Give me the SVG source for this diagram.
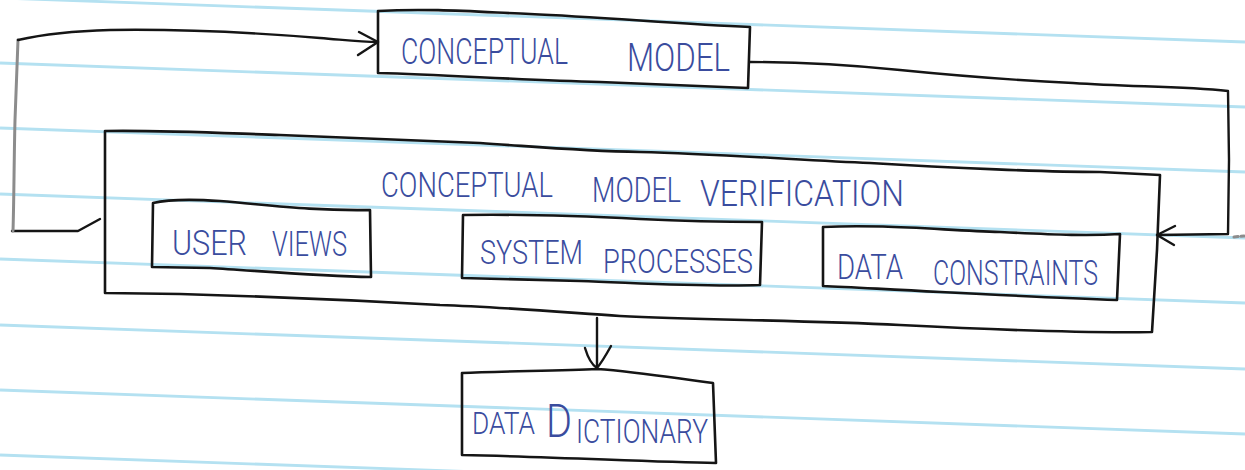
<svg xmlns="http://www.w3.org/2000/svg" width="1245" height="470" viewBox="0 0 1245 470">
  <defs>
    <style>
      .paper { stroke: #b4e1f1; stroke-width: 2.8; fill: none; }
      .box { fill: none; stroke: #151515; stroke-width: 2.6; stroke-linejoin: round; stroke-linecap: round; }
      .wire { fill: none; stroke: #151515; stroke-width: 2.4; stroke-linejoin: round; stroke-linecap: round; }
      .pencil { fill: none; stroke: #8c8c8c; stroke-width: 3; stroke-linecap: round; }
      .t { font-family: Roboto, "Liberation Sans", Arial, sans-serif; font-weight: 300; fill: #3a4c9e; }
    </style>
  </defs>
  <rect x="0" y="0" width="1245" height="470" fill="#ffffff"/>
  <g id="paper-lines">
    <line class="paper" x1="0" y1="-2" x2="1245" y2="42"/>
    <line class="paper" x1="0" y1="63" x2="1245" y2="107"/>
    <line class="paper" x1="0" y1="128" x2="1245" y2="172"/>
    <line class="paper" x1="0" y1="194" x2="1245" y2="238"/>
    <line class="paper" x1="0" y1="259" x2="1245" y2="303"/>
    <line class="paper" x1="0" y1="325" x2="1245" y2="369"/>
    <line class="paper" x1="0" y1="390" x2="1245" y2="434"/>
    <line class="paper" x1="0" y1="455" x2="1245" y2="499"/>
  </g>

  <g id="connectors">
    <!-- feedback loop from verification back to conceptual model -->
    <path class="wire" d="M100,219 L78,231 L12,231"/>
    <path class="pencil" d="M13,231 C14,200 14,160 15,120 C16,90 17,60 18,40"/>
    <path class="wire" d="M18,40 C40,35 70,31 110,30 C180,29 260,33 320,38 C345,40 360,42 378,42"/>
    <path class="wire" d="M359,32 L378,42 L358,55"/>
    <!-- conceptual model to verification -->
    <path class="wire" d="M750,62 C800,62 850,65 900,70 C960,76 1010,80 1073,83 C1130,87 1180,86 1228,91 L1229,160 L1228,234 L1157,235"/>
    <path class="wire" d="M1175,226 L1157,235 L1174,245"/>
    <path class="pencil" d="M1234,237 L1244,236" stroke-dasharray="4 3"/>
    <!-- verification to data dictionary -->
    <path class="wire" d="M597,318 L597,367"/>
    <path class="wire" d="M585,348 C588,358 592,365 597,368 C602,362 606,355 611,346"/>
  </g>

  <g id="conceptual-model">
    <path class="box" d="M378,11 C430,8 480,12 530,14 C600,17 680,24 750,27 L748,88 C700,86 650,84 600,82 C520,80 450,75 378,73 Z"/>
    <text class="t" font-size="37" x="401" y="64" textLength="167" lengthAdjust="spacingAndGlyphs">CONCEPTUAL</text>
    <text class="t" font-size="38" x="627" y="71" textLength="103" lengthAdjust="spacingAndGlyphs">MODEL</text>
  </g>

  <g id="conceptual-model-verification">
    <path class="box" d="M105,131 C160,130 220,133 280,135 C360,138 420,140 480,143 C540,147 580,151 640,152 C720,154 800,160 870,163 C950,168 1050,172 1100,172 L1160,175 L1157,250 L1152,332 C1100,333 1000,330 900,325 C800,320 700,320 620,316 C560,312 500,307 440,305 C350,300 250,296 180,294 L105,293 Z"/>
    <text class="t" font-size="35" x="381" y="197" textLength="172" lengthAdjust="spacingAndGlyphs">CONCEPTUAL</text>
    <text class="t" font-size="35" x="592" y="202" textLength="89" lengthAdjust="spacingAndGlyphs">MODEL</text>
    <text class="t" font-size="37" x="700" y="206" textLength="204" lengthAdjust="spacingAndGlyphs">VERIFICATION</text>
  </g>

  <g id="user-views">
    <path class="box" d="M153,203 C170,199 190,199 220,201 C270,205 310,211 370,210 L371,277 C320,276 260,271 210,268 L152,267 Z"/>
    <text class="t" font-size="35" x="172" y="255" textLength="75" lengthAdjust="spacingAndGlyphs">USER</text>
    <text class="t" font-size="35" x="272" y="256" textLength="75" lengthAdjust="spacingAndGlyphs">VIEWS</text>
  </g>

  <g id="system-processes">
    <path class="box" d="M463,215 C520,214 580,216 640,219 C700,222 730,222 762,222 L760,285 C700,287 640,283 580,281 L462,278 Z"/>
    <text class="t" font-size="33" x="480" y="264" textLength="103" lengthAdjust="spacingAndGlyphs">SYSTEM</text>
    <text class="t" font-size="34" x="603" y="273" textLength="150" lengthAdjust="spacingAndGlyphs">PROCESSES</text>
  </g>

  <g id="data-constraints">
    <path class="box" d="M823,227 C880,224 940,230 1000,232 C1060,235 1090,236 1120,234 L1117,300 C1060,298 1000,295 940,292 C880,289 850,287 823,286 Z"/>
    <text class="t" font-size="35" x="837" y="279" textLength="66" lengthAdjust="spacingAndGlyphs">DATA</text>
    <text class="t" font-size="35" x="933" y="285" textLength="165" lengthAdjust="spacingAndGlyphs">CONSTRAINTS</text>
  </g>

  <g id="data-dictionary">
    <path class="box" d="M462,373 C500,371 560,371 597,369 C640,372 680,379 713,383 L716,463 C650,462 560,457 462,455 Z"/>
    <text class="t" font-size="31" x="472" y="434" textLength="63" lengthAdjust="spacingAndGlyphs">DATA</text>
    <text class="t" font-size="34"><tspan x="546" y="437" font-size="46" textLength="26" lengthAdjust="spacingAndGlyphs">D</tspan><tspan x="576" y="443" textLength="132" lengthAdjust="spacingAndGlyphs">ICTIONARY</tspan></text>
  </g>
</svg>
